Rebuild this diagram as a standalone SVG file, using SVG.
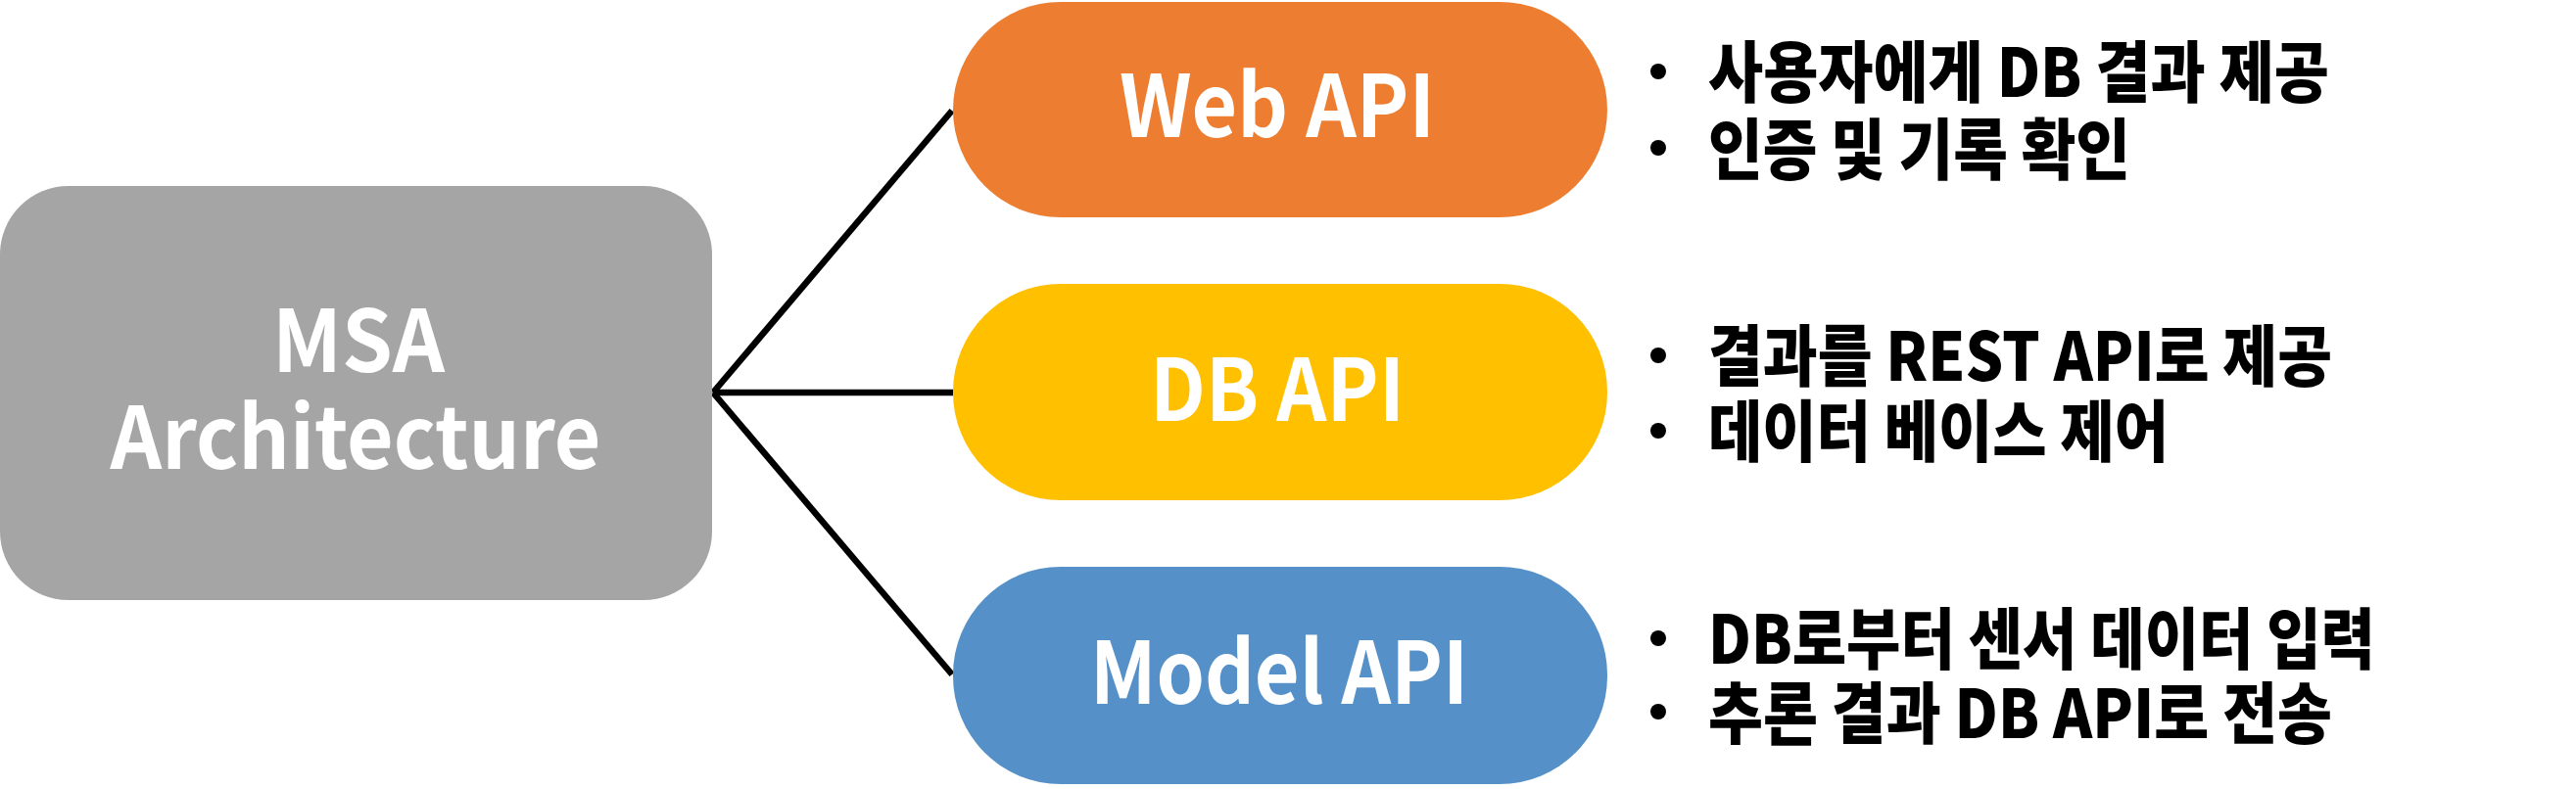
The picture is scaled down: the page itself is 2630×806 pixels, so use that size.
<svg xmlns="http://www.w3.org/2000/svg" width="2630" height="806" viewBox="0 0 2630 806">
<style>
.lbl{font-family:"Noto Sans CJK KR","Noto Sans",sans-serif;font-weight:700;font-size:88px;fill:#fff;text-anchor:middle}
.desc{font-family:"Noto Sans CJK KR","Noto Sans",sans-serif;font-weight:900;font-size:68px;fill:#000}
.conn{stroke:#000;stroke-width:6.5;fill:none;stroke-linecap:butt}
.dot{fill:#000}
</style>
<rect width="2630" height="806" fill="#fff"/>
<g id="connectors">
<line class="conn" x1="728" y1="401" x2="972" y2="113"/>
<line class="conn" x1="728" y1="401" x2="973" y2="401"/>
<line class="conn" x1="728" y1="401" x2="972" y2="689"/>
</g>
<g id="msa">
<rect x="0" y="190" width="727" height="423" rx="70" ry="70" fill="#A5A5A5"/>
<text class="lbl" x="366" y="380" textLength="176" lengthAdjust="spacingAndGlyphs">MSA</text>
<text class="lbl" x="363" y="479" textLength="501" lengthAdjust="spacingAndGlyphs">Architecture</text>
</g>
<g id="web-api">
<rect x="973" y="2" width="668" height="220" rx="110" ry="110" fill="#ED7D31"/>
<text class="lbl" x="1304" y="140" textLength="322" lengthAdjust="spacingAndGlyphs">Web API</text>
</g>
<g id="db-api">
<rect x="973" y="290" width="668" height="221" rx="110" ry="110" fill="#FFC000"/>
<text class="lbl" x="1304" y="430" textLength="260" lengthAdjust="spacingAndGlyphs">DB API</text>
</g>
<g id="model-api">
<rect x="973" y="579" width="668" height="222" rx="110" ry="110" fill="#5590C8"/>
<text class="lbl" x="1306" y="719" textLength="386" lengthAdjust="spacingAndGlyphs">Model API</text>
</g>
<g id="web-desc">
<circle class="dot" cx="1693" cy="73" r="8"/>
<text class="desc" x="1744" y="99" textLength="634" lengthAdjust="spacingAndGlyphs">사용자에게 DB 결과 제공</text>
<circle class="dot" cx="1693" cy="151" r="8"/>
<text class="desc" x="1744" y="178" textLength="431" lengthAdjust="spacingAndGlyphs">인증 및 기록 확인</text>
</g>
<g id="db-desc">
<circle class="dot" cx="1693" cy="363" r="8"/>
<text class="desc" x="1744" y="389" textLength="637" lengthAdjust="spacingAndGlyphs">결과를 REST API로 제공</text>
<circle class="dot" cx="1693" cy="440" r="8"/>
<text class="desc" x="1744" y="466" textLength="470" lengthAdjust="spacingAndGlyphs">데이터 베이스 제어</text>
</g>
<g id="model-desc">
<circle class="dot" cx="1693" cy="652" r="8"/>
<text class="desc" x="1744" y="678" textLength="681" lengthAdjust="spacingAndGlyphs">DB로부터 센서 데이터 입력</text>
<circle class="dot" cx="1693" cy="727" r="8"/>
<text class="desc" x="1744" y="754" textLength="637" lengthAdjust="spacingAndGlyphs">추론 결과 DB API로 전송</text>
</g>
</svg>
